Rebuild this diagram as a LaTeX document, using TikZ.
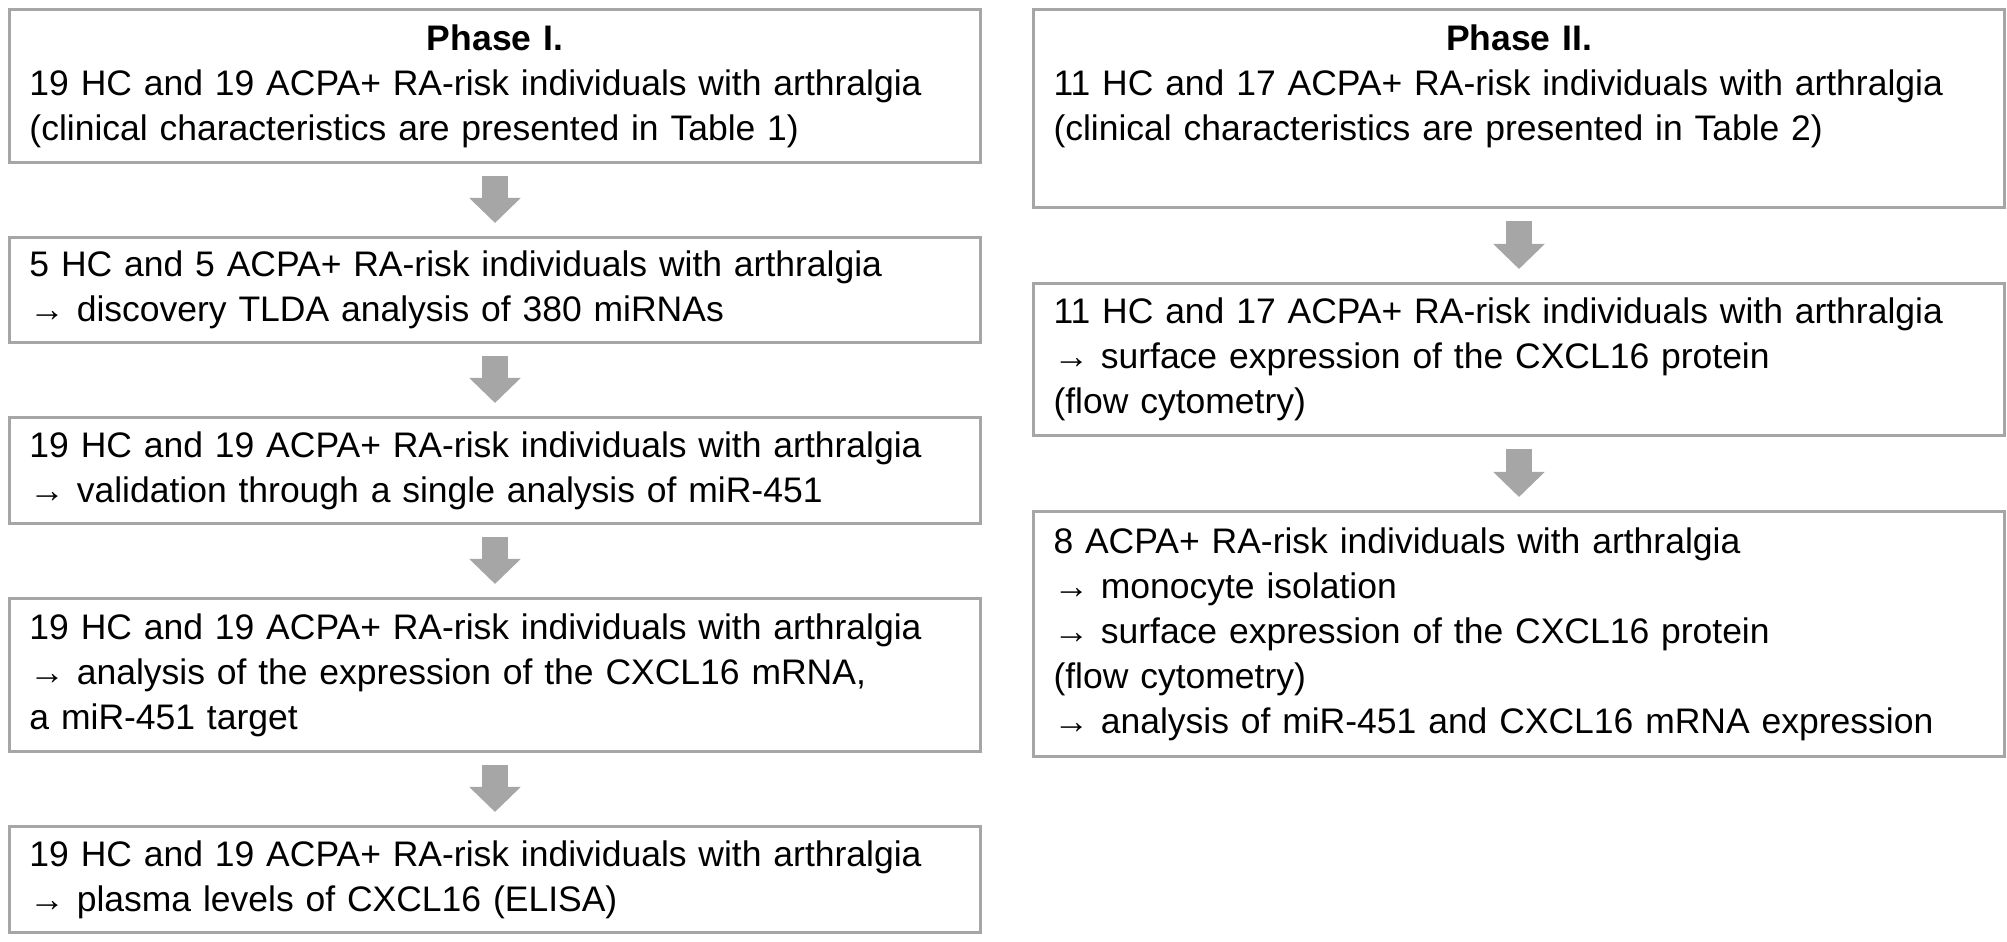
\documentclass[tikz,border=0pt]{standalone}
\usepackage{fontspec}
\setmainfont{Liberation Sans}
\usetikzlibrary{arrows.meta,positioning}
\definecolor{framegray}{RGB}{166,166,166}

\begin{document}
\begin{tikzpicture}[
    box/.style={draw=framegray,line width=0.85pt,text width=9.31cm,inner xsep=0.2cm,inner ysep=0pt,
      align=left,font=\fontsize{10.1}{12.8}\selectfont},
    flow/.style={draw=framegray,line width=0.26cm,-{Triangle[length=0.25cm,width=0.5cm]},
      shorten <=0.12cm,shorten >=0.13cm},
    node distance=0.72cm]
  \useasboundingbox(0,0)rectangle(20.07,-9.42);
  % Phase I
  \node[box,minimum height=1.53cm,anchor=north west](phaseA)at(0.08,-0.08)
    {\makebox[\linewidth]{\bfseries Phase I.}\\19 HC and 19 ACPA+ RA-risk individuals with arthralgia\\(clinical characteristics are presented in Table 1)};
  \node[box,minimum height=1.05cm,below=of phaseA](tlda)
    {5 HC and 5 ACPA+ RA-risk individuals with arthralgia\\→ discovery TLDA analysis of 380 miRNAs};
  \node[box,minimum height=1.06cm,below=of tlda](valid)
    {19 HC and 19 ACPA+ RA-risk individuals with arthralgia\\→ validation through a single analysis of miR-451};
  \node[box,minimum height=1.53cm,below=of valid](mrna)
    {19 HC and 19 ACPA+ RA-risk individuals with arthralgia\\→ analysis of the expression of the CXCL16 mRNA,\\a miR-451 target};
  \node[box,minimum height=1.06cm,below=of mrna](elisa)
    {19 HC and 19 ACPA+ RA-risk individuals with arthralgia\\→ plasma levels of CXCL16 (ELISA)};
  % Phase II
  \node[box,minimum height=1.98cm,anchor=north west](phaseB)at(10.32,-0.08)
    {\makebox[\linewidth]{\bfseries Phase II.}\\11 HC and 17 ACPA+ RA-risk individuals with arthralgia\\(clinical characteristics are presented in Table 2)\\\rule[-0.06cm]{0pt}{0pt}};
  \node[box,minimum height=1.52cm,below=0.73cm of phaseB](flow)
    {11 HC and 17 ACPA+ RA-risk individuals with arthralgia\\→ surface expression of the CXCL16 protein\\(flow cytometry)};
  \node[box,minimum height=2.45cm,below=0.73cm of flow](mono)
    {8 ACPA+ RA-risk individuals with arthralgia\\→ monocyte isolation\\→ surface expression of the CXCL16 protein\\(flow cytometry)\\→ analysis of miR-451 and CXCL16 mRNA expression};
  % block arrows
  \draw[flow](phaseA)--(tlda);
  \draw[flow](tlda)--(valid);
  \draw[flow](valid)--(mrna);
  \draw[flow](mrna)--(elisa);
  \draw[flow](phaseB)--(flow);
  \draw[flow](flow)--(mono);
\end{tikzpicture}
\end{document}
